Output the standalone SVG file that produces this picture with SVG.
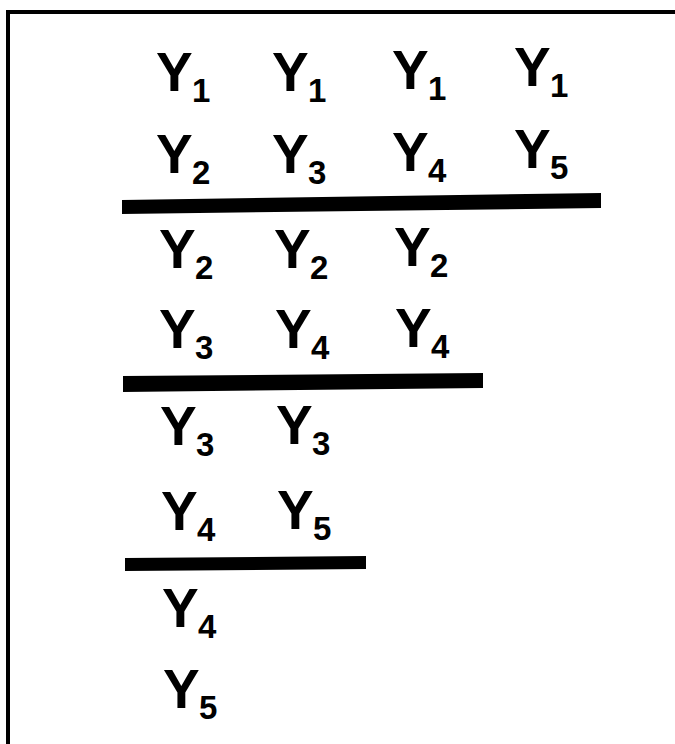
<svg xmlns="http://www.w3.org/2000/svg" width="675" height="744" viewBox="0 0 675 744">
<style>
.y{font-family:"Liberation Sans",Arial,sans-serif;font-weight:bold;font-size:55px;fill:#000}
.s{font-family:"Liberation Sans",Arial,sans-serif;font-weight:bold;font-size:33px;fill:#000}
.bar{fill:#000}
</style>
<rect width="675" height="744" fill="#fff"/>
<line x1="6" y1="12" x2="675" y2="12" stroke="#000" stroke-width="4"/>
<line x1="8" y1="10" x2="8" y2="744" stroke="#000" stroke-width="4"/>
<defs>
<g id="t"/>
</defs>
<g id="r1">
<g id="r1c1"><text class="y" x="156" y="91">Y</text><text class="s" x="192" y="102">1</text></g>
<g id="r1c2"><text class="y" x="272" y="91">Y</text><text class="s" x="308" y="102">1</text></g>
<g id="r1c3"><text class="y" x="392" y="89">Y</text><text class="s" x="428" y="100">1</text></g>
<g id="r1c4"><text class="y" x="514" y="86">Y</text><text class="s" x="550" y="97">1</text></g>
</g>
<g id="r2">
<g id="r2c1"><text class="y" x="156" y="173">Y</text><text class="s" x="192" y="184">2</text></g>
<g id="r2c2"><text class="y" x="272" y="173">Y</text><text class="s" x="308" y="184">3</text></g>
<g id="r2c3"><text class="y" x="392" y="171">Y</text><text class="s" x="428" y="182">4</text></g>
<g id="r2c4"><text class="y" x="514" y="168">Y</text><text class="s" x="550" y="179">5</text></g>
</g>
<g id="r3">
<g id="r3c1"><text class="y" x="159" y="268">Y</text><text class="s" x="195" y="279">2</text></g>
<g id="r3c2"><text class="y" x="274" y="268">Y</text><text class="s" x="310" y="279">2</text></g>
<g id="r3c3"><text class="y" x="394" y="266">Y</text><text class="s" x="430" y="277">2</text></g>
</g>
<g id="r4">
<g id="r4c1"><text class="y" x="159" y="348">Y</text><text class="s" x="195" y="359">3</text></g>
<g id="r4c2"><text class="y" x="275" y="348">Y</text><text class="s" x="311" y="359">4</text></g>
<g id="r4c3"><text class="y" x="395" y="347">Y</text><text class="s" x="431" y="358">4</text></g>
</g>
<g id="r5">
<g id="r5c1"><text class="y" x="160" y="445">Y</text><text class="s" x="196" y="456">3</text></g>
<g id="r5c2"><text class="y" x="276" y="444">Y</text><text class="s" x="312" y="455">3</text></g>
</g>
<g id="r6">
<g id="r6c1"><text class="y" x="161" y="530">Y</text><text class="s" x="197" y="541">4</text></g>
<g id="r6c2"><text class="y" x="277" y="529">Y</text><text class="s" x="313" y="540">5</text></g>
</g>
<g id="r7">
<g id="r7c1"><text class="y" x="162" y="627">Y</text><text class="s" x="198" y="638">4</text></g>
</g>
<g id="r8">
<g id="r8c1"><text class="y" x="163" y="708">Y</text><text class="s" x="199" y="719">5</text></g>
</g>
<g id="bars">
<polygon class="bar" points="122,200 601,193 601,208 122,214"/>
<polygon class="bar" points="123,376 483,373 483,388 123,392"/>
<polygon class="bar" points="125,558 366,556 366,569 125,571"/>
</g>
</svg>
